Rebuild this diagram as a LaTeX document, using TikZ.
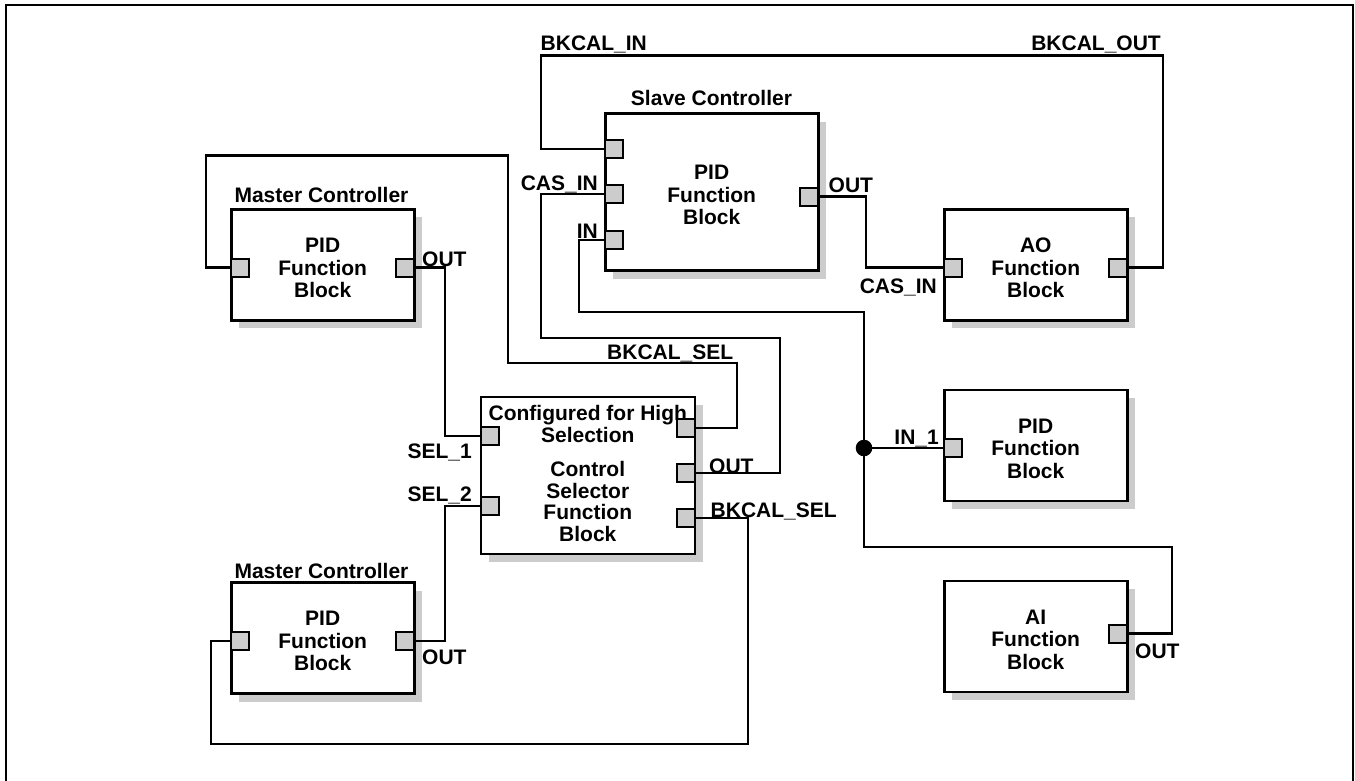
\documentclass[tikz,border=0pt]{standalone}
\usepackage{fontspec}
\setmainfont{Liberation Sans}
\usetikzlibrary{shadows}
\definecolor{shgray}{RGB}{204,204,204}
\definecolor{portgray}{RGB}{204,204,204}
\newcommand{\topstrut}{\rule{0pt}{21pt}}
\tikzset{
  block/.style={draw, fill=white, line width=2.6pt, inner sep=0pt, align=center,
    font=\fontsize{21}{22.5}\selectfont\bfseries,
    drop shadow={shadow xshift=8pt, shadow yshift=-8pt, fill=shgray, opacity=1}},
  port/.style={draw, fill=portgray, line width=2pt, minimum size=18pt, inner sep=0pt},
  wire/.style={line width=2.2pt},
  lab/.style={inner sep=0pt, font=\fontsize{21}{22.5}\selectfont\bfseries},
  frame/.style={line width=2.4pt}
}
\begin{document}
\begin{tikzpicture}[x=1pt,y=-1pt]
\useasboundingbox (0,0) rectangle (1355,780);
\draw[frame] (6,800) -- (6,5) -- (1353,5) -- (1353,800);

% blocks
\node[block, minimum width=213pt, minimum height=157pt] (slave) at (711.7,192) {\topstrut PID\\Function\\Block};
\node[block, minimum width=183pt, minimum height=111pt] (m1) at (322.7,264.7) {\topstrut PID\\Function\\Block};
\node[block, minimum width=183pt, minimum height=111pt] (m2) at (322.7,638) {\topstrut PID\\Function\\Block};
\node[block, minimum width=214pt, minimum height=157pt, font=\fontsize{21}{21.5}\selectfont\bfseries] (sel) at (587.8,475.3) {Configured for High\\Selection\\[13pt]Control\\Selector\\Function\\Block\rule[-4pt]{0pt}{4pt}};
\node[block, minimum width=183pt, minimum height=111pt] (ao) at (1035.8,264.7) {\topstrut AO\\Function\\Block};
\node[block, minimum width=183pt, minimum height=111pt] (p3) at (1035.7,445.5) {\topstrut PID\\Function\\Block};
\node[block, minimum width=183pt, minimum height=111pt] (ai) at (1035.7,636.5) {\topstrut AI\\Function\\Block};

% titles
\node[lab, anchor=base] (tslave) at (711.5,105) {Slave Controller};
\node[lab, anchor=base] (tm1) at (321.5,202.3) {Master Controller};
\node[lab, anchor=base] (tm2) at (321.5,578.3) {Master Controller};

% ports
\node[port] (sA) at (614.2,149.3) {};
\node[port] (sB) at (614.2,194.2) {};
\node[port] (sC) at (614.2,240) {};
\node[port] (sD) at (809.2,196.5) {};
\node[port] (m1I) at (240.2,267.5) {};
\node[port] (m1O) at (405.2,267.5) {};
\node[port] (m2I) at (240.2,640.8) {};
\node[port] (m2O) at (405.2,640.8) {};
\node[port] (s1) at (489.8,435.8) {};
\node[port] (s2) at (489.8,505.8) {};
\node[port] (sR1) at (685.8,428.3) {};
\node[port] (sR2) at (685.8,473.3) {};
\node[port] (sR3) at (685.8,518.3) {};
\node[port] (aoI) at (953.3,267.5) {};
\node[port] (aoO) at (1118.3,267.5) {};
\node[port] (p3I) at (953.2,448) {};
\node[port] (aiO) at (1118.2,633.5) {};

% wires
\draw[wire] (aoO.east) -| (1163.3,55.5) -- (541,55.5) |- (sA.west);
\draw[wire] (sD.east) -| (866,230) |- (aoI.west);
\draw[wire] (sB.west) -| (541,338) -| (780,400) |- (sR2.east);
\draw[wire] (sC.west) -| (579,311.7) -| (864,546.7) -| (1172.3,600) |- (aiO.east);
\coordinate (j) at (864,448);
\fill (j) circle (8.3);
\draw[wire] (j) -- (p3I.west);
\draw[wire] (sR1.east) -| (736.7,362.7) -| (508.3,155.5) -| (206,200) |- (m1I.west);
\draw[wire] (m1O.east) -| (445,400) |- (s1.west);
\draw[wire] (m2O.east) -| (445,560) |- (s2.west);
\draw[wire] (sR3.east) -| (748.3,744.3) -| (210.7,700) |- (m2I.west);

% port labels
\node[lab, anchor=base west] (lbkin) at (540.5,50.8) {BKCAL\_IN};
\node[lab, anchor=base east] (lbkout) at (1161,50.5) {BKCAL\_OUT};
\node[lab, anchor=base east] (lcas) at (598,190) {CAS\_IN};
\node[lab, anchor=base east] (lin) at (598,238.3) {IN};
\node[lab, anchor=base west] (lsout) at (828.5,192.3) {OUT};
\node[lab, anchor=base east] (laocas) at (937,293.3) {CAS\_IN};
\node[lab, anchor=base west] (lm1out) at (422,266) {OUT};
\node[lab, anchor=base west] (lbksel1) at (607,359) {BKCAL\_SEL};
\node[lab, anchor=base east] (lsel1) at (472,458.3) {SEL\_1};
\node[lab, anchor=base east] (lsel2) at (472,501.7) {SEL\_2};
\node[lab, anchor=base west] (lselout) at (709,473.3) {OUT};
\node[lab, anchor=base west] (lbksel2) at (710.5,517.3) {BKCAL\_SEL};
\node[lab, anchor=base east] (lin1) at (939,444) {IN\_1};
\node[lab, anchor=base west] (laiout) at (1135,658.3) {OUT};
\node[lab, anchor=base west] (lm2out) at (422,664) {OUT};
\end{tikzpicture}
\end{document}
